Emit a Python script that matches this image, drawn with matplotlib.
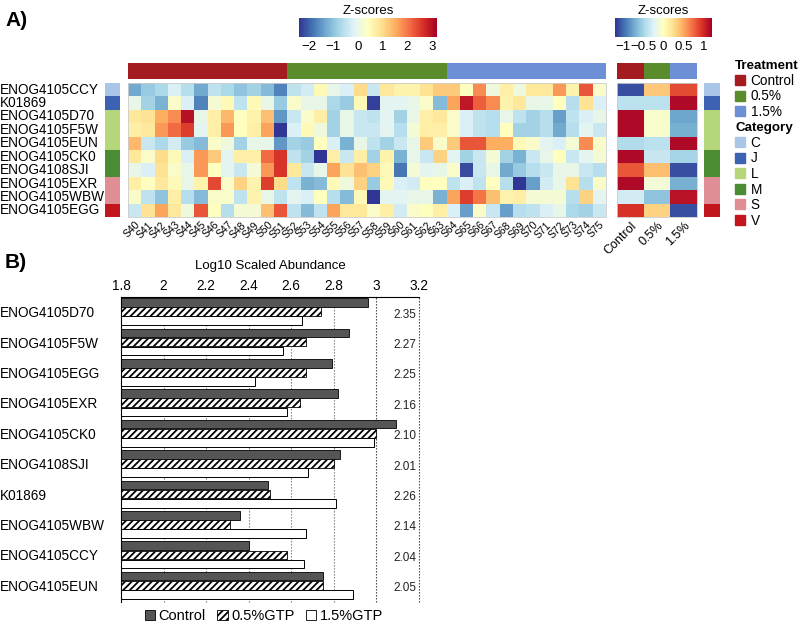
import matplotlib
matplotlib.use("Agg")
import matplotlib.pyplot as plt
import numpy as np
from matplotlib.colors import ListedColormap
from matplotlib.patches import Patch

plt.rcParams['font.family'] = ['Liberation Sans', 'DejaVu Sans']
plt.rcParams['hatch.linewidth'] = 1.3
plt.rcParams['axes.unicode_minus'] = True

# ---- panel A data ----
genes = ["ENOG4105CCY", "K01869", "ENOG4105D70", "ENOG4105F5W", "ENOG4105EUN",
         "ENOG4105CK0", "ENOG4108SJI", "ENOG4105EXR", "ENOG4105WBW", "ENOG4105EGG"]
samples = ["S%d" % i for i in range(40, 76)]
treatments = ["Control", "0.5%", "1.5%"]
treat_colors = ["#a51c20", "#5b8c2c", "#6d8fd6"]
sample_treat = ["Control"] * 12 + ["0.5%"] * 12 + ["1.5%"] * 12
categories = ["C", "J", "L", "M", "S", "V"]
cat_colors = ["#a9c6e8", "#3d62b3", "#b5d67b", "#4b8b32", "#df8e96", "#c2161c"]
gene_cat = ["C", "J", "L", "L", "L", "M", "M", "S", "S", "V"]

z_control = [
    [-1.3, -0.9, -0.7, -0.2, -0.6, -1.3, -0.5, -0.7, -1.0, -0.8, -1.1, -1.7],
    [0.0, -0.8, -1.2, 0.3, -0.2, -1.7, 0.2, 0.5, -0.5, 0.5, 0.0, -0.9],
    [0.8, 0.9, 1.5, 1.8, 3.0, 0.0, 0.7, 1.4, 0.4, 0.6, 1.3, -1.5],
    [0.7, 0.8, 1.7, 2.1, 2.5, -0.1, 0.7, 1.7, 0.4, 0.7, 1.6, -2.4],
    [1.4, -0.4, -0.7, -0.3, -0.9, -1.1, 0.3, 0.1, -0.8, 0.0, 0.0, -1.5],
    [0.8, 0.3, 1.0, 0.5, -0.2, 1.7, 1.2, -0.1, 0.7, 0.7, 2.1, 2.6],
    [0.0, -0.2, 0.9, 0.3, 0.0, 1.7, 0.4, -0.1, -0.4, 0.2, 1.7, 2.6],
    [0.7, 0.4, 0.8, 0.5, 0.0, 0.6, 2.4, 0.3, 1.1, 0.6, 2.5, 1.0],
    [0.3, -0.5, -1.0, 0.7, -0.6, -1.1, 0.3, 0.3, -0.5, 0.6, 0.0, -0.5],
    [-0.4, 0.9, 1.6, 0.8, 0.1, 2.3, 0.4, -0.6, 0.2, 0.2, 1.3, 2.3],
]
z_gtp05 = [
    [-0.5, -0.3, 0.5, 0.0, -0.2, 1.0, -0.4, 0.8, 0.6, 0.6, 0.9, 1.2],
    [0.3, 0.0, 0.0, -0.7, -0.9, 0.5, -2.3, -0.1, -0.1, 0.0, 0.3, -1.1],
    [-0.4, 0.3, 0.7, -0.8, 0.0, -0.4, -0.5, -0.1, -0.8, 0.0, 0.7, 0.8],
    [-0.2, 0.5, 0.1, -0.8, 0.0, -0.4, -0.4, -0.1, -0.6, 0.2, 0.7, 0.7],
    [-0.8, -0.9, 0.4, -0.2, -1.2, 0.0, -0.5, -0.8, -0.4, 0.0, 1.2, 0.3],
    [-0.5, -0.8, -2.4, 0.7, -0.4, 0.7, -0.8, 0.6, -1.2, 0.0, -0.4, 1.1],
    [0.8, -0.4, 0.0, 1.6, 0.9, 1.3, 1.1, 0.5, -1.8, 0.2, -0.1, 0.0],
    [-0.5, -1.2, -1.1, 0.5, 0.1, 1.1, -0.9, 0.5, -0.2, -0.3, 0.4, 0.4],
    [-0.1, -0.2, 0.4, -0.6, -1.1, 0.5, -2.4, -0.1, -0.1, 0.0, 0.0, -1.2],
    [-0.5, -1.1, -0.5, 1.6, 0.8, 0.8, 0.3, 0.7, -0.3, 0.3, 0.4, 0.7],
]
z_gtp15 = [
    [1.2, 0.4, 1.8, 0.1, 0.7, 0.1, 0.8, 0.8, 1.7, 0.6, 2.3, 0.3],
    [1.6, 2.9, 2.2, 1.8, 0.6, 0.8, 0.0, 0.0, 0.4, -0.6, 0.9, -0.2],
    [0.3, -0.2, -0.5, -0.6, 0.0, -0.5, -0.8, -0.6, -1.4, -0.5, -0.2, 0.0],
    [0.3, -0.2, -0.5, -0.6, 0.4, -0.8, -0.8, -0.6, -1.3, -0.6, -0.1, -0.4],
    [1.2, 2.3, 2.3, 1.5, 1.5, 0.5, 0.3, -0.1, -0.2, 0.2, 1.8, 0.3],
    [-0.1, -0.8, -0.4, 0.2, -0.8, -1.2, -0.4, 0.0, 0.4, -0.4, -0.1, 0.2],
    [0.3, -2.2, -0.4, 0.0, -1.3, -0.9, -0.6, -0.4, 0.0, 0.0, -0.4, -0.6],
    [-0.5, -0.2, -0.5, 0.4, -0.6, -2.4, -1.4, -0.3, 0.0, 0.9, -0.6, 0.3],
    [1.6, 2.5, 2.0, 1.3, 0.6, 0.7, 0.2, 0.2, 0.2, -0.6, 1.1, -0.1],
    [-0.2, -1.4, 0.3, -0.4, -1.4, -0.6, -0.5, -0.2, 0.0, -0.7, -0.8, -0.4],
]
# group means (Control, 0.5%, 1.5%)
mean_z = [
    [-1.1, 0.35, 0.85],
    [-0.4, -0.4, 1.15],
    [1.15, -0.05, -0.75],
    [1.15, -0.05, -0.7],
    [-0.45, -0.4, 1.15],
    [1.15, -0.35, -0.5],
    [0.8, 0.4, -1.1],
    [1.15, -0.1, -0.7],
    [-0.3, -0.6, 1.1],
    [0.95, 0.3, -1.1],
]

# ---- panel B data ----
bar_genes = ["ENOG4105D70", "ENOG4105F5W", "ENOG4105EGG", "ENOG4105EXR", "ENOG4105CK0",
             "ENOG4108SJI", "K01869", "ENOG4105WBW", "ENOG4105CCY", "ENOG4105EUN"]
control = [2.96, 2.87, 2.79, 2.82, 3.09, 2.83, 2.49, 2.36, 2.40, 2.75]
gtp05 = [2.74, 2.67, 2.67, 2.64, 3.00, 2.80, 2.50, 2.31, 2.58, 2.75]
gtp15 = [2.65, 2.56, 2.43, 2.58, 2.99, 2.68, 2.81, 2.67, 2.66, 2.89]
right_vals = ["2.35", "2.27", "2.25", "2.16", "2.10", "2.01", "2.26", "2.14", "2.04", "2.05"]
xticks_b = [1.8, 2.0, 2.2, 2.4, 2.6, 2.8, 3.0, 3.2]

W, H = 800, 625
fig = plt.figure(figsize=(8, 6.25), dpi=100)


def box(x, y, w, h):
    # pixel rectangle (top-left origin) -> figure axes
    return fig.add_axes([x / W, 1 - (y + h) / H, w / W, h / H])


cmap = plt.get_cmap("RdYlBu_r")
z = np.hstack([np.array(z_control), np.array(z_gtp05), np.array(z_gtp15)])

# main heatmap
ax = box(128, 83, 478, 134)
im = ax.imshow(z, cmap=cmap, vmin=-2.4, vmax=3.2, aspect="auto", interpolation="nearest")
ax.set_xticks(np.arange(len(samples)))
ax.set_xticklabels(samples, rotation=45, ha="right", rotation_mode="anchor", fontsize=7.5)
ax.set_yticks([])
ax.tick_params(length=0, pad=2)
for s in ax.spines.values():
    s.set_color("#cccccc")
    s.set_linewidth(0.6)

# treatment annotation row
treat_cmap = ListedColormap(treat_colors)
ta = box(128, 63, 478, 16)
ta.imshow([[treatments.index(t) for t in sample_treat]], cmap=treat_cmap, vmin=0, vmax=2,
          aspect="auto", interpolation="nearest")
ta.axis("off")

# category annotation column (left)
cat_cmap = ListedColormap(cat_colors)
cat_idx = [[categories.index(c)] for c in gene_cat]
ca = box(105, 83, 15, 134)
ca.imshow(cat_idx, cmap=cat_cmap, vmin=0, vmax=5, aspect="auto", interpolation="nearest")
ca.axis("off")

for i, g in enumerate(genes):
    fig.text(0.0, 1 - (83 + 13.4 * (i + 0.5)) / H, g, fontsize=9.8, ha="left", va="center")

# mean heatmap
am = box(617, 83, 80, 134)
im2 = am.imshow(mean_z, cmap=cmap, vmin=-1.2, vmax=1.2, aspect="auto", interpolation="nearest")
am.set_xticks(np.arange(3))
am.set_xticklabels(treatments, rotation=45, ha="right", rotation_mode="anchor", fontsize=9)
am.set_yticks([])
am.tick_params(length=0, pad=2)
for s in am.spines.values():
    s.set_color("#cccccc")
    s.set_linewidth(0.6)

ma = box(617, 63, 80, 16)
ma.imshow([list(range(3))], cmap=treat_cmap, vmin=0, vmax=2, aspect="auto", interpolation="nearest")
ma.axis("off")

cr = box(704, 83, 16, 134)
cr.imshow(cat_idx, cmap=cat_cmap, vmin=0, vmax=5, aspect="auto", interpolation="nearest")
cr.axis("off")

# colorbars
cax1 = box(299, 18, 138, 19)
cb1 = fig.colorbar(im, cax=cax1, orientation="horizontal", ticks=[-2, -1, 0, 1, 2, 3])
cb1.outline.set_visible(False)
cax1.tick_params(labelsize=9.5, length=0, pad=3)
cax1.set_title("Z-scores", fontsize=9.5, pad=3)

cax2 = box(615, 18, 97, 19)
cb2 = fig.colorbar(im2, cax=cax2, orientation="horizontal", ticks=[-1, -0.5, 0, 0.5, 1])
cb2.set_ticklabels(["\u22121", "\u22120.5", "0", "0.5", "1"])
cb2.outline.set_visible(False)
cax2.tick_params(labelsize=9.5, length=0, pad=3)
cax2.set_title("Z-scores", fontsize=9.5, pad=3)

# legends
leg_kw = dict(loc="upper left", frameon=False, fontsize=9.8, handlelength=0.75, handleheight=0.75,
              handletextpad=0.4, labelspacing=0.12, borderaxespad=0, borderpad=0,
              alignment="left", title_fontproperties={"weight": "bold", "size": 9.6})
fig.legend([Patch(color=c) for c in treat_colors], treatments, title="Treatment",
           bbox_to_anchor=(735 / W, 1 - 60 / H), **leg_kw)
fig.legend([Patch(color=c) for c in cat_colors], categories, title="Category",
           bbox_to_anchor=(735 / W, 1 - 122 / H), **leg_kw)

fig.text(5 / W, 1 - 20 / H, "A)", fontsize=15, fontweight="bold", va="center")
fig.text(5 / W, 1 - 262 / H, "B)", fontsize=15, fontweight="bold", va="center")

# ---- panel B ----
bx = box(121, 297, 298, 305)
y = np.arange(len(bar_genes))
h = 0.285
bx.barh(y - 0.3, control, height=h, color="#555555", edgecolor="black", linewidth=0.6, zorder=2)
bx.barh(y, gtp05, height=h, color="white", edgecolor="black", hatch="/////", linewidth=0.6, zorder=2)
bx.barh(y + 0.3, gtp15, height=h, color="white", edgecolor="black", linewidth=0.7, zorder=2)
bx.set_xlim(1.8, 3.2)
bx.set_ylim(9.55, -0.48)
for v in xticks_b[1:]:
    bx.axvline(v, color="#333333" if v >= 3.0 else "#777777", linestyle=(0, (1.2, 1.5)),
               linewidth=0.8, zorder=0, clip_on=False)
for i, t in enumerate(right_vals):
    bx.text(3.188, y[i] + 0.1, t, ha="right", va="center", fontsize=8.5, color="#222222")

bx.xaxis.tick_top()
bx.xaxis.set_label_position("top")
bx.set_xticks(xticks_b)
bx.set_xticklabels(["%g" % v for v in xticks_b])
bx.set_xlabel("Log10 Scaled Abundance", fontsize=9.5, labelpad=7)
bx.set_yticks(y)
bx.set_yticklabels(bar_genes, ha="left")
bx.tick_params(axis="x", length=0, labelsize=9.8, pad=3)
bx.tick_params(axis="y", length=0, labelsize=9.8, pad=87)
bx.spines["right"].set_visible(False)
bx.spines["bottom"].set_visible(False)
bx.spines["left"].set_linewidth(0.8)
bx.spines["top"].set_linewidth(0.8)

handles = [Patch(facecolor="#555555", edgecolor="black", linewidth=0.6),
           Patch(facecolor="white", edgecolor="black", hatch="/////", linewidth=0.6),
           Patch(facecolor="white", edgecolor="black", linewidth=0.6)]
fig.legend(handles, ["Control", "0.5%GTP", "1.5%GTP"], loc="center", ncol=3, frameon=False,
           bbox_to_anchor=(264 / W, 1 - 616 / H), fontsize=10.5, handlelength=0.7,
           handleheight=0.7, handletextpad=0.25, columnspacing=0.8)

fig.savefig("out.png", dpi=100)
